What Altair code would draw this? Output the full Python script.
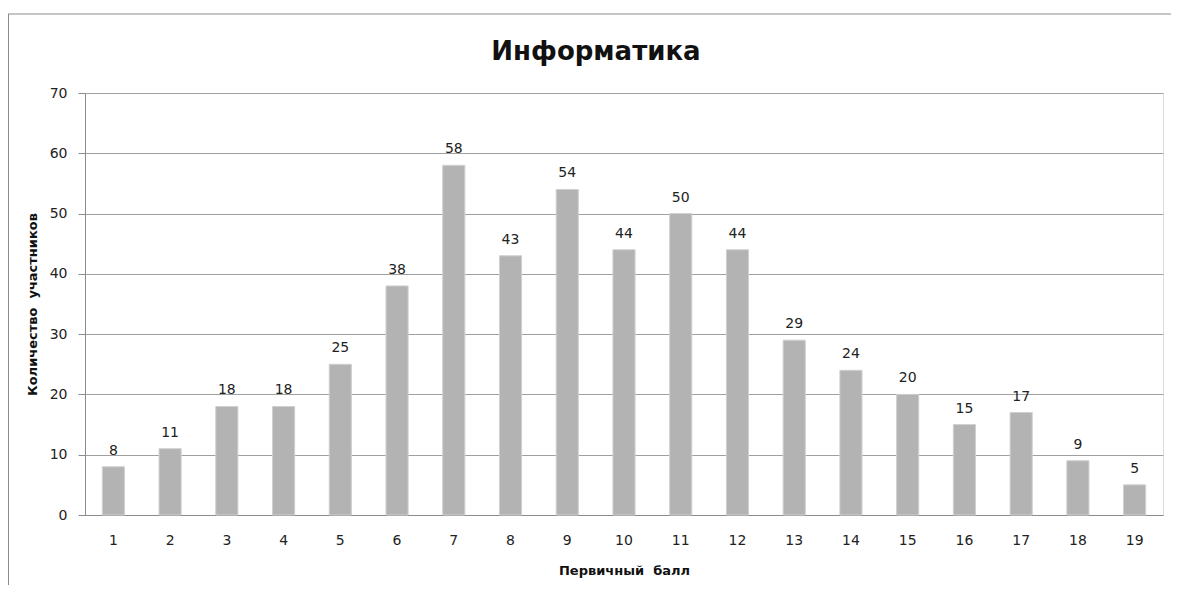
import altair as alt
import pandas as pd

scores = [str(i) for i in range(1, 20)]
counts = [8, 11, 18, 18, 25, 38, 58, 43, 54, 44, 50, 44, 29, 24, 20, 15, 17, 9, 5]

df = pd.DataFrame({"score": scores, "count": counts})

W, H = 1078, 422
FONT = "DejaVu Sans"

x = alt.X("score:N", sort=scores, title="Первичный\u00a0\u00a0балл",
          scale=alt.Scale(paddingInner=0.61, paddingOuter=0.305),
          axis=alt.Axis(labelAngle=0, labelFont=FONT, labelFontSize=14, labelColor="#222222",
                        labelPadding=18, ticks=False, domainColor="#8c8c8c",
                        titleFont=FONT, titleFontSize=13, titleFontWeight="bold",
                        titleColor="#111111", titlePadding=17))
y = alt.Y("count:Q", title="Количество\u00a0\u00a0участников",
          scale=alt.Scale(domain=[0, 70]),
          axis=alt.Axis(values=[0, 10, 20, 30, 40, 50, 60, 70], labelFont=FONT,
                        labelFontSize=14, labelColor="#222222", labelPadding=11,
                        tickSize=7, tickColor="#8c8c8c", domainColor="#8c8c8c",
                        gridColor="#a0a0a0", titleFont=FONT, titleFontSize=13,
                        titleFontWeight="bold", titleColor="#111111", titlePadding=10))

base = alt.Chart(df)
bars = base.mark_bar(color="#b3b3b3", stroke="#d0d0d0", strokeWidth=1).encode(x=x, y=y)
labels = base.mark_text(baseline="alphabetic", dy=-12, font=FONT, fontSize=14, color="#222222").encode(
    x=alt.X("score:N", sort=scores), y="count:Q", text="count:Q")

title = alt.Chart(pd.DataFrame({"t": ["Информатика"]})).mark_text(
    font=FONT, fontSize=26, fontWeight="bold", color="#111111", baseline="alphabetic"
).encode(x=alt.value(511), y=alt.value(-33), text="t:N")

border_top = alt.Chart(pd.DataFrame({"a": [0]})).mark_rule(color="#8c8c8c", strokeWidth=1).encode(
    x=alt.value(-77), x2=alt.value(W + 40), y=alt.value(-79))
border_left = alt.Chart(pd.DataFrame({"a": [0]})).mark_rule(color="#8c8c8c", strokeWidth=1).encode(
    x=alt.value(-76.5), y=alt.value(-79), y2=alt.value(H + 100))

chart = alt.layer(bars, labels, title, border_top, border_left).properties(
    width=W, height=H,
    autosize=alt.AutoSizeParams(type="none"),
    padding={"left": 77, "top": 85, "right": 8, "bottom": 70},
).configure_view(stroke=None).configure(background="white")

chart.save("out.html", embed_options={"renderer": "svg", "actions": False})
